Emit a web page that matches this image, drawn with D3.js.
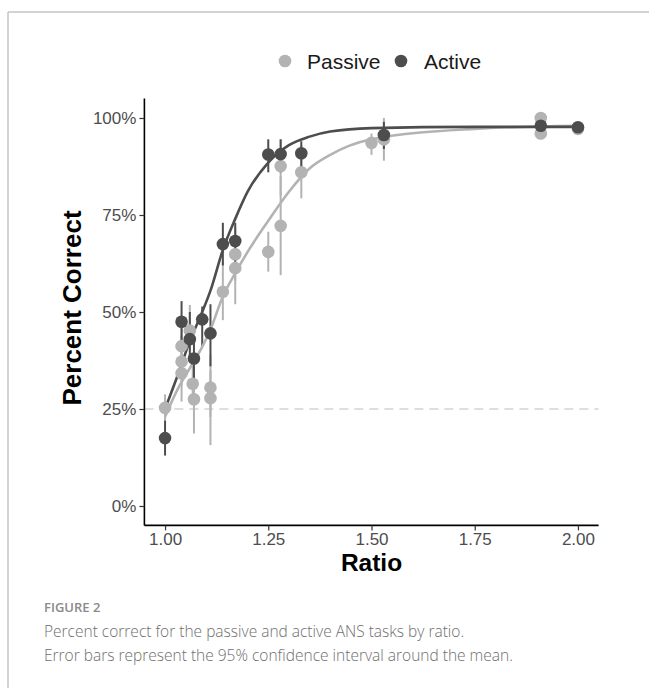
<!DOCTYPE html>
<html>
<head>
<meta charset="utf-8">
<script src="https://cdn.jsdelivr.net/npm/d3@7"></script>
<style>
  body { margin: 0; background: #fff; }
  svg { display: block; }
</style>
</head>
<body>
<div id="chart"></div>
<script>
// passive task: mean percent correct + 95% CI, by ratio
const passiveRatio = [1.00, 1.04, 1.04, 1.04, 1.06, 1.067, 1.07, 1.11, 1.11, 1.14, 1.17, 1.17, 1.25, 1.28, 1.28, 1.33, 1.50, 1.53, 1.91, 1.91, 2.00];
const passiveMean  = [0.253, 0.412, 0.372, 0.342, 0.452, 0.315, 0.275, 0.305, 0.278, 0.552, 0.649, 0.613, 0.655, 0.876, 0.722, 0.860, 0.936, 0.945, 1.000, 0.960, 0.972];
const passiveLow   = [0.213, 0.350, 0.310, 0.269, 0.400, 0.260, 0.187, 0.230, 0.157, 0.479, 0.580, 0.520, 0.604, 0.800, 0.595, 0.793, 0.905, 0.890, 1.000, 0.950, 0.960];
const passiveHigh  = [0.288, 0.470, 0.440, 0.410, 0.518, 0.370, 0.330, 0.390, 0.350, 0.630, 0.720, 0.700, 0.707, 0.945, 0.850, 0.930, 0.960, 1.000, 1.000, 0.970, 0.985];

// active task
const activeRatio = [1.00, 1.04, 1.06, 1.07, 1.09, 1.11, 1.14, 1.17, 1.25, 1.28, 1.33, 1.53, 1.91, 2.00];
const activeMean  = [0.175, 0.475, 0.430, 0.380, 0.481, 0.445, 0.675, 0.683, 0.906, 0.907, 0.909, 0.956, 0.980, 0.976];
const activeLow   = [0.130, 0.420, 0.370, 0.330, 0.410, 0.360, 0.620, 0.630, 0.860, 0.860, 0.870, 0.920, 0.970, 0.970];
const activeHigh  = [0.220, 0.528, 0.500, 0.430, 0.514, 0.520, 0.730, 0.730, 0.945, 0.945, 0.940, 0.990, 0.990, 0.985];

// fitted curves
const fitRatio   = [1.00, 1.03, 1.06, 1.09, 1.11, 1.14, 1.17, 1.20, 1.25, 1.30, 1.35, 1.40, 1.50, 1.75, 2.00];
const passiveFit = [0.230, 0.300, 0.355, 0.410, 0.455, 0.540, 0.600, 0.655, 0.735, 0.810, 0.870, 0.905, 0.945, 0.972, 0.980];
const activeFit  = [0.250, 0.335, 0.425, 0.500, 0.555, 0.660, 0.740, 0.810, 0.885, 0.930, 0.952, 0.965, 0.974, 0.977, 0.977];

const xTicks = [1.00, 1.25, 1.50, 1.75, 2.00];
const yTicks = [0, 0.25, 0.50, 0.75, 1.00];
const chance = 0.25;

const groups = ['Passive', 'Active'];
const colors = { Passive: '#b3b3b3', Active: '#4d4d4d' };

const width = 649, height = 688;
const plot = { left: 144.4, right: 598.6, top: 98.6, bottom: 525.4 };

const svg = d3.select('#chart').append('svg')
  .attr('width', width)
  .attr('height', height)
  .style('font-family', '"Liberation Sans", Arial, sans-serif');

// frame lines of the figure box
svg.append('line')
  .attr('x1', 8).attr('y1', 12).attr('x2', width).attr('y2', 12)
  .attr('stroke', '#c4c4c4').attr('stroke-width', 1.5);
svg.append('line')
  .attr('x1', 8).attr('y1', 12).attr('x2', 8).attr('y2', height)
  .attr('stroke', '#c4c4c4').attr('stroke-width', 1.5);

const x = d3.scaleLinear().domain([0.95, 2.05]).range([plot.left, plot.right]);
const y = d3.scaleLinear().domain([-0.05, 1.05]).range([plot.bottom, plot.top]);

// chance line
svg.append('line')
  .attr('x1', plot.left).attr('x2', plot.right)
  .attr('y1', y(chance)).attr('y2', y(chance))
  .attr('stroke', '#d3d3d3')
  .attr('stroke-width', 1.5)
  .attr('stroke-dasharray', '9,6');

const toRows = (ratio, mean, low, high, group) =>
  ratio.map((r, i) => ({ ratio: r, mean: mean[i], low: low[i], high: high[i], group }));

const data = {
  Passive: toRows(passiveRatio, passiveMean, passiveLow, passiveHigh, 'Passive'),
  Active: toRows(activeRatio, activeMean, activeLow, activeHigh, 'Active')
};
const fits = {
  Passive: fitRatio.map((r, i) => ({ ratio: r, value: passiveFit[i] })),
  Active: fitRatio.map((r, i) => ({ ratio: r, value: activeFit[i] }))
};

// error bars
const bars = svg.append('g').attr('class', 'errorbars');
groups.forEach(g => {
  bars.selectAll(`.bar-${g}`)
    .data(data[g])
    .join('line')
    .attr('class', `bar-${g}`)
    .attr('x1', d => x(d.ratio)).attr('x2', d => x(d.ratio))
    .attr('y1', d => y(d.low)).attr('y2', d => y(d.high))
    .attr('stroke', colors[g])
    .attr('stroke-width', 2);
});

// fitted curves
const line = d3.line()
  .x(d => x(d.ratio))
  .y(d => y(d.value))
  .curve(d3.curveMonotoneX);

groups.forEach(g => {
  svg.append('path')
    .datum(fits[g])
    .attr('d', line)
    .attr('fill', 'none')
    .attr('stroke', colors[g])
    .attr('stroke-width', 2.6);
});

// points
groups.forEach(g => {
  svg.append('g').selectAll('circle')
    .data(data[g])
    .join('circle')
    .attr('cx', d => x(d.ratio))
    .attr('cy', d => y(d.mean))
    .attr('r', 6.3)
    .attr('fill', colors[g]);
});

// axes
const axisX = svg.append('g')
  .attr('transform', `translate(0, ${plot.bottom})`)
  .call(d3.axisBottom(x).tickValues(xTicks).tickFormat(d3.format('.2f')).tickSize(5).tickPadding(3));
const axisY = svg.append('g')
  .attr('transform', `translate(${plot.left}, 0)`)
  .call(d3.axisLeft(y).tickValues(yTicks).tickFormat(d3.format('.0%')).tickSize(5).tickPadding(3));

[axisX, axisY].forEach(a => {
  a.select('.domain').attr('stroke', '#000').attr('stroke-width', 1.6);
  a.selectAll('.tick line').attr('stroke', '#333').attr('stroke-width', 1.2);
  a.selectAll('.tick text')
    .attr('fill', '#4d4d4d')
    .style('font-size', '17px')
    .style('font-family', '"Liberation Sans", Arial, sans-serif');
});
// axis domain should span only the plot box (no outer ticks)
axisX.select('.domain').attr('d', `M${plot.left},0H${plot.right}`);
axisY.select('.domain').attr('d', `M0,${plot.top}V${plot.bottom}`);

// axis titles
svg.append('text')
  .attr('x', (plot.left + plot.right) / 2)
  .attr('y', 571)
  .attr('text-anchor', 'middle')
  .style('font-size', '24.5px')
  .style('font-weight', 'bold')
  .attr('fill', '#000')
  .text('Ratio');

svg.append('text')
  .attr('transform', `translate(81, ${(plot.top + plot.bottom) / 2 - 4}) rotate(-90)`)
  .attr('text-anchor', 'middle')
  .style('font-size', '26px')
  .style('font-weight', 'bold')
  .attr('fill', '#000')
  .text('Percent Correct');

// legend
const legend = svg.append('g').attr('transform', 'translate(0, 61)');
const legendItems = [
  { group: 'Passive', cx: 285, tx: 307 },
  { group: 'Active', cx: 401, tx: 424 }
];
legend.selectAll('circle')
  .data(legendItems)
  .join('circle')
  .attr('cx', d => d.cx)
  .attr('cy', 0)
  .attr('r', 6.3)
  .attr('fill', d => colors[d.group]);
legend.selectAll('text')
  .data(legendItems)
  .join('text')
  .attr('x', d => d.tx)
  .attr('y', 7.5)
  .style('font-size', '21px')
  .attr('fill', '#1a1a1a')
  .text(d => d.group);

// caption
const caption = svg.append('g').style('font-family', '"Open Sans", "Noto Sans", sans-serif');
caption.append('text')
  .attr('x', 44).attr('y', 612)
  .style('font-size', '13px')
  .style('font-weight', '600')
  .attr('fill', '#8a8a8a')
  .text('FIGURE 2');
caption.append('text')
  .attr('x', 44).attr('y', 637)
  .style('font-size', '15.5px')
  .style('font-weight', '300')
  .attr('fill', '#6e6e6e')
  .text('Percent correct for the passive and active ANS tasks by ratio.');
caption.append('text')
  .attr('x', 44).attr('y', 661)
  .style('font-size', '15.5px')
  .style('font-weight', '300')
  .attr('fill', '#6e6e6e')
  .text('Error bars represent the 95% confidence interval around the mean.');
</script>
</body>
</html>
